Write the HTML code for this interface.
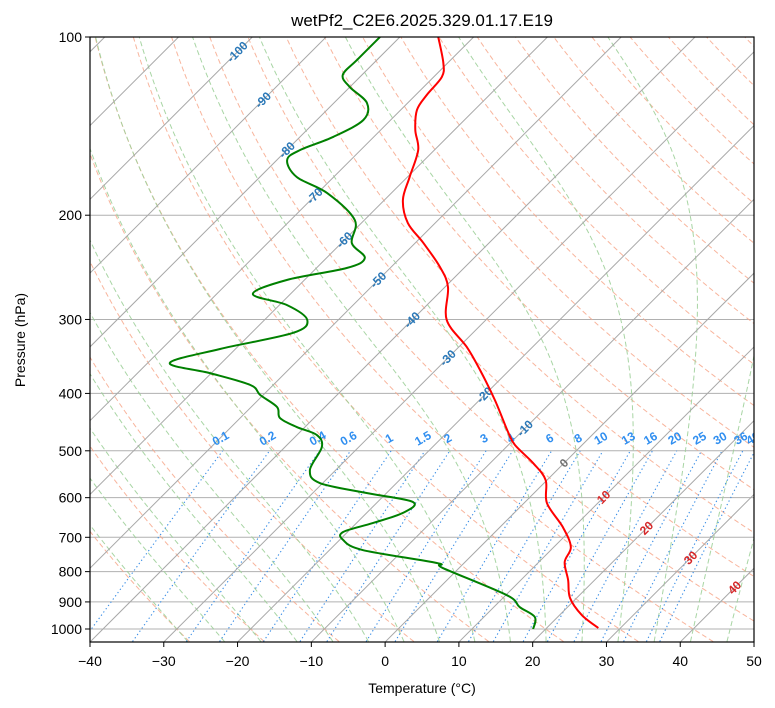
<!DOCTYPE html>
<html><head><meta charset="utf-8"><style>
html,body{margin:0;padding:0;background:#fff;}
svg{display:block;font-family:"Liberation Sans","DejaVu Sans",sans-serif;}
</style></head><body>
<svg id="chart" width="775" height="708" viewBox="0 0 775 708" xmlns="http://www.w3.org/2000/svg">
<defs><clipPath id="clip"><rect x="90" y="37" width="664" height="605"/></clipPath></defs>
<text x="422" y="26" font-size="17" text-anchor="middle">wetPf2_C2E6.2025.329.01.17.E19</text>
<g id="bg" clip-path="url(#clip)"></g>
<g id="labels" clip-path="url(#clip)"></g>
<g id="series" clip-path="url(#clip)"></g>
<g id="axes"></g>
<text x="422" y="693" font-size="14" text-anchor="middle">Temperature (°C)</text>
<text x="25" y="340" font-size="14" text-anchor="middle" transform="rotate(-90 25 340)">Pressure (hPa)</text>
</svg>
<script>
// ---- data ----
const tempP = [100,110.6,116.8,125.3,132.8,143.6,155.2,172.4,188.5,206.2,222.8,244.6,264.4,300.6,334,365.2,410.6,464.8,488.9,524.4,560.2,612.7,672.6,727,770.7,826.5,886.4,947.1,996.1];
const tempT = [-74.8,-70.6,-68.9,-68.5,-67.8,-65.3,-62.2,-59.7,-57.5,-53.7,-48.9,-43.4,-39.6,-35.3,-28.9,-24,-17.9,-11.8,-9.1,-4.2,-0.2,3.1,8.5,12.3,13.5,16.4,19.1,23,27];
const dewP = [100,109.4,115.9,121.5,129.3,138.1,147.5,155.2,161.4,172.4,183.5,203.8,222.8,236.2,245.6,257.3,271.7,283.6,300.6,316.2,336.5,355.3,369.6,387.1,402.5,421.7,440.2,455.9,470.3,492.8,538.9,566.8,589.3,610.3,637,662.3,685.8,707.5,735.6,773.7,788.9,876.3,918.2,954.4,1000];
const dewT = [-82.7,-82.7,-82.6,-80,-75.5,-73.7,-75.5,-78.2,-78.6,-75,-68.7,-61.3,-58.6,-54.8,-55.9,-62.4,-65.1,-59,-54.2,-54.4,-62.1,-67,-60.2,-53.1,-50.4,-46.5,-44.6,-41.1,-37.3,-35,-33.5,-30.4,-22.7,-15.2,-15.1,-17.8,-20.6,-19.5,-15.5,-3.7,-2.2,10.1,13.5,16.9,18.3];
const xTicks = [-40,-30,-20,-10,0,10,20,30,40,50];
const pTicks = [100,200,300,400,500,600,700,800,900,1000];
const isoTemps = [-120,-110,-100,-90,-80,-70,-60,-50,-40,-30,-20,-10,0,10,20,30,40,50];
const isoLabelT = [-100,-90,-80,-70,-60,-50,-40,-30,-20,-10,0,10,20,30,40];
const isoLabelP = [106,127.8,155.2,185.6,220.2,257.3,300.6,348.5,402.5,458.3,524.4,598.9,675.4,758.2,851.3];
const dryTheta = [-30,-20,-10,0,10,20,30,40,50,60,70,80,90,100,110,120,130,140,150,160,170,180,190,200];
const moistT0 = [-30,-25,-20,-15,-10,-5,0,5,10,15,20,25,30,35,40,45];
const mixW = [0.1,0.2,0.4,0.6,1,1.5,2,3,4,6,8,10,13,16,20,25,30,36,40];
const mixLabels = ["0.1","0.2","0.4","0.6","1","1.5","2","3","4","6","8","10","13","16","20","25","30","36","40"];

// ---- scales ----
const NS="http://www.w3.org/2000/svg";
const yP = p => 37 + (Math.log10(p)-2)*592;
const xT = (T,p) => 90 + (T+40)*7.378 + (642 - yP(p));
function el(tag, attrs, parent){const e=document.createElementNS(NS,tag);for(const k in attrs)e.setAttribute(k,attrs[k]);parent.appendChild(e);return e;}
function pathFrom(ps,ts){return ps.map((p,i)=>(i?'L':'M')+xT(ts[i],p).toFixed(2)+','+yP(p).toFixed(2)).join('');}
function smoothPath(ps,ts){
  const pts=ps.map((p,i)=>[xT(ts[i],p),yP(p)]);
  let d='M'+pts[0][0].toFixed(2)+','+pts[0][1].toFixed(2);
  for(let i=0;i<pts.length-1;i++){
    const p0=pts[Math.max(0,i-1)],p1=pts[i],p2=pts[i+1],p3=pts[Math.min(pts.length-1,i+2)];
    const c1=[p1[0]+(p2[0]-p0[0])/6,p1[1]+(p2[1]-p0[1])/6];
    const c2=[p2[0]-(p3[0]-p1[0])/6,p2[1]-(p3[1]-p1[1])/6];
    d+='C'+c1[0].toFixed(2)+','+c1[1].toFixed(2)+' '+c2[0].toFixed(2)+','+c2[1].toFixed(2)+' '+p2[0].toFixed(2)+','+p2[1].toFixed(2);
  }
  return d;
}
const bg=document.getElementById('bg'), series=document.getElementById('series'), axes=document.getElementById('axes'), labels=document.getElementById('labels');

const levels=[]; for(let p=1050;p>=100;p-=5) levels.push(p);

pTicks.forEach(p=>{
  const l=el('line',{x1:90,x2:754,y1:yP(p),y2:yP(p),stroke:'#b0b0b0','stroke-width':1},bg);
  
  
});
dryTheta.forEach(th=>{
  const ts=levels.map(p=>(th+273.15)*Math.pow(p/1000,0.2857)-273.15);
  const e=el('path',{d:pathFrom(levels,ts),fill:'none',stroke:'#f7a88c','stroke-width':1,'stroke-dasharray':'5,3',opacity:0.85},bg);
  
  
});
function es(Tc){return 6.112*Math.exp(17.67*Tc/(Tc+243.5));}
function dTdp(T,p){const Tc=T-273.15;const e=es(Tc);const rs=0.622*e/(p-e);
  return (287.04*T+2.501e6*rs)/(p*(1005.7+2.501e6*2.501e6*rs*0.622/(287.04*T*T)));}
moistT0.forEach(t0=>{
  const ps=[],ts=[];let T=t0+273.15;
  let Td=T;for(let p=1000;p<1050;p+=1){Td+=dTdp(Td,p)*1;}
  T=Td;for(let p=1050;p>100;p-=1){ if((1050-p)%5===0){ps.push(p);ts.push(T-273.15);} T-=dTdp(T,p)*1;}
  ps.push(100);ts.push(T-273.15);
  const e=el('path',{d:pathFrom(ps,ts),fill:'none',stroke:'#9fd09a','stroke-width':1,'stroke-dasharray':'5,3',opacity:0.9},bg);
  
  
});
const mixLevels=[]; for(let p=1050;p>=500;p-=10) mixLevels.push(p);
function tdw(w,p){const e=w*p/(622+w);const l=Math.log(e/6.112);return 243.5*l/(17.67-l);}
mixW.forEach((w,i)=>{
  const ts=mixLevels.map(p=>tdw(w,p));
  const e=el('path',{d:pathFrom(mixLevels,ts),fill:'none',stroke:'#3a8ee6','stroke-width':1.1,'stroke-dasharray':'1.3,2.7'},bg);
  
  
});
isoTemps.forEach(T=>{
  const e=el('line',{x1:xT(T,1050),y1:yP(1050),x2:xT(T,100),y2:yP(100),stroke:'#a8a8a8','stroke-width':1},bg);
  
  
});
mixW.forEach((w,i)=>{
  const x=xT(tdw(w,500),500), y=yP(500)-9;
  const t=el('text',{x:x,y:y,'font-size':12,'font-weight':'bold',fill:'#2f8ef0','text-anchor':'middle',transform:`rotate(-30 ${x} ${y})`},labels);
  t.textContent=mixLabels[i];
  
  
});
isoLabelT.forEach((T,i)=>{
  const p=isoLabelP[i];const x=xT(T,p),y=yP(p)+4;
  const col=T<0?'#2a78b8':(T===0?'#707070':'#d62728');
  const t=el('text',{x:x,y:y,'font-size':12,'font-weight':'bold',fill:col,'text-anchor':'middle',transform:`rotate(-45 ${x} ${y-4})`},labels);
  t.textContent=String(T);
  
  
});
const tp=el('path',{d:smoothPath(tempP,tempT),fill:'none',stroke:'#ff0000','stroke-width':2,'stroke-linejoin':'round'},series);


const dp=el('path',{d:smoothPath(dewP,dewT),fill:'none',stroke:'#008000','stroke-width':2,'stroke-linejoin':'round'},series);



const fr=el('rect',{x:90,y:37,width:664,height:605,fill:'none',stroke:'#000','stroke-width':1.2},axes);


xTicks.forEach(T=>{
  const x=90+(T+40)*7.378;
  const tk=el('line',{x1:x,x2:x,y1:642,y2:647,stroke:'#000','stroke-width':1},axes);
  
  
  const t=el('text',{x:x,y:666,'font-size':14,'text-anchor':'middle'},axes);
  t.textContent=T<0?'\u2212'+(-T):String(T);
  
  
});
pTicks.forEach(p=>{
  const y=yP(p);
  const tk=el('line',{x1:85,x2:90,y1:y,y2:y,stroke:'#000','stroke-width':1},axes);
  
  
  const t=el('text',{x:82,y:y+5,'font-size':14,'text-anchor':'end'},axes);
  t.textContent=String(p);
  
  
});
</script>
</body></html>
